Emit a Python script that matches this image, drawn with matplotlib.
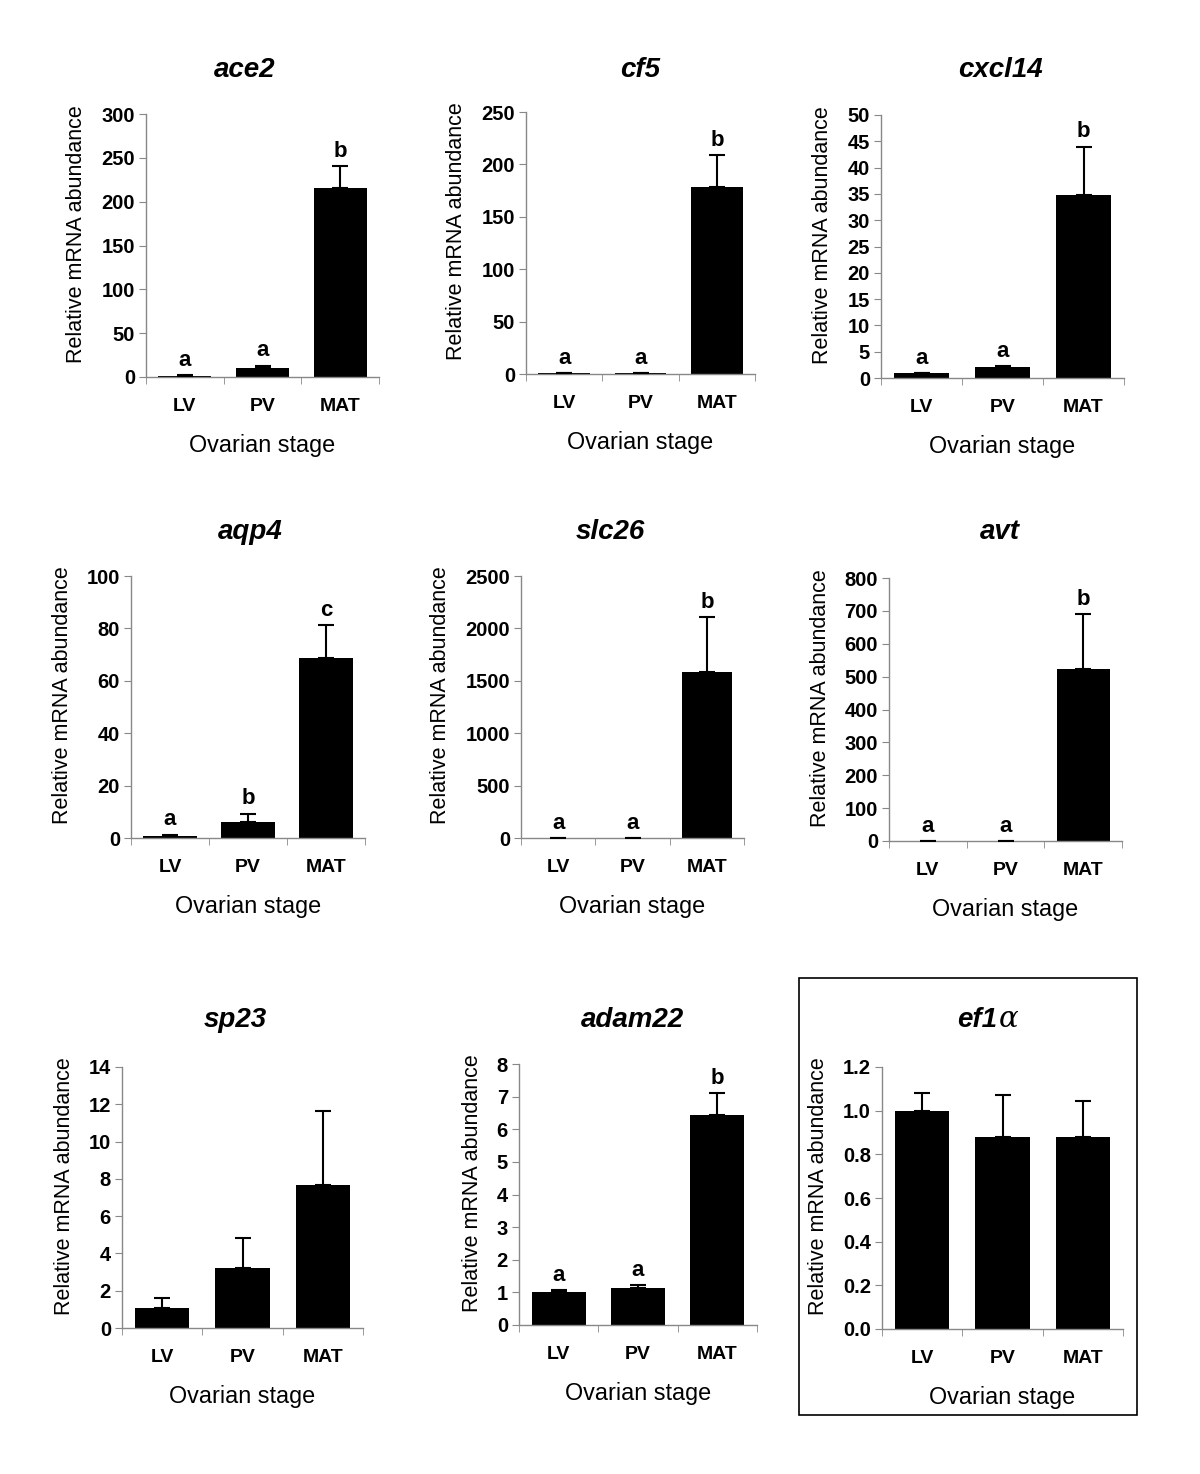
import matplotlib
matplotlib.use("Agg")
import matplotlib.pyplot as plt
import numpy as np

plt.rcParams['font.family'] = ['Liberation Sans', 'DejaVu Sans']
plt.rcParams['mathtext.fontset'] = 'dejavuserif'

stages = ['LV', 'PV', 'MAT']

genes = ['ace2', 'cf5', 'cxcl14', 'aqp4', 'slc26', 'avt', 'sp23', 'adam22', 'ef1a']

ace2_mean = [1.5, 10, 216]
ace2_err = [0.8, 3, 25]
cf5_mean = [1.2, 1.2, 178]
cf5_err = [0, 0, 31]
cxcl14_mean = [1.0, 2.0, 34.7]
cxcl14_err = [0, 0.3, 9.3]
aqp4_mean = [0.8, 6.0, 68.7]
aqp4_err = [0.5, 3.3, 12.5]
slc26_mean = [2, 2, 1580]
slc26_err = [0, 0, 530]
avt_mean = [1, 1, 522]
avt_err = [0, 0, 168]
sp23_mean = [1.05, 3.2, 7.65]
sp23_err = [0.55, 1.65, 4.0]
adam22_mean = [1.02, 1.13, 6.45]
adam22_err = [0.04, 0.09, 0.65]
ef1a_mean = [1.0, 0.88, 0.88]
ef1a_err = [0.08, 0.19, 0.165]

ace2_sig = ['a', 'a', 'b']
cf5_sig = ['a', 'a', 'b']
cxcl14_sig = ['a', 'a', 'b']
aqp4_sig = ['a', 'b', 'c']
slc26_sig = ['a', 'a', 'b']
avt_sig = ['a', 'a', 'b']
sp23_sig = ['', '', '']
adam22_sig = ['a', 'a', 'b']
ef1a_sig = ['', '', '']

ace2_ticks = [0, 50, 100, 150, 200, 250, 300]
cf5_ticks = [0, 50, 100, 150, 200, 250]
cxcl14_ticks = [0, 5, 10, 15, 20, 25, 30, 35, 40, 45, 50]
aqp4_ticks = [0, 20, 40, 60, 80, 100]
slc26_ticks = [0, 500, 1000, 1500, 2000, 2500]
avt_ticks = [0, 100, 200, 300, 400, 500, 600, 700, 800]
sp23_ticks = [0, 2, 4, 6, 8, 10, 12, 14]
adam22_ticks = [0, 1, 2, 3, 4, 5, 6, 7, 8]
ef1a_ticks = [0.0, 0.2, 0.4, 0.6, 0.8, 1.0, 1.2]

titles = {'ace2': 'ace2', 'cf5': 'cf5', 'cxcl14': 'cxcl14', 'aqp4': 'aqp4',
          'slc26': 'slc26', 'avt': 'avt', 'sp23': 'sp23', 'adam22': 'adam22',
          'ef1a': 'ef1'}

data = {
    'ace2': (ace2_mean, ace2_err, ace2_sig, ace2_ticks),
    'cf5': (cf5_mean, cf5_err, cf5_sig, cf5_ticks),
    'cxcl14': (cxcl14_mean, cxcl14_err, cxcl14_sig, cxcl14_ticks),
    'aqp4': (aqp4_mean, aqp4_err, aqp4_sig, aqp4_ticks),
    'slc26': (slc26_mean, slc26_err, slc26_sig, slc26_ticks),
    'avt': (avt_mean, avt_err, avt_sig, avt_ticks),
    'sp23': (sp23_mean, sp23_err, sp23_sig, sp23_ticks),
    'adam22': (adam22_mean, adam22_err, adam22_sig, adam22_ticks),
    'ef1a': (ef1a_mean, ef1a_err, ef1a_sig, ef1a_ticks),
}

# axes boxes in pixels: left, right, top, bottom
boxes = {
    'ace2': (146, 379, 114, 377),
    'cf5': (526, 755, 112, 374),
    'cxcl14': (881, 1124, 115, 378),
    'aqp4': (131, 365, 576, 838),
    'slc26': (521, 744, 576, 838),
    'avt': (889, 1122, 578, 841),
    'sp23': (122, 363, 1067, 1328),
    'adam22': (519, 757, 1064, 1325),
    'ef1a': (882, 1123, 1067, 1329),
}
# title centre x and baseline y in pixels
title_pos = {
    'ace2': (245, 77), 'cf5': (640, 77), 'cxcl14': (1000, 77),
    'aqp4': (250, 539), 'slc26': (610, 539), 'avt': (1000, 539),
    'sp23': (235, 1027), 'adam22': (632, 1027), 'ef1a': (997, 1027),
}

W, H = 1200, 1474
fig = plt.figure(figsize=(W / 100, H / 100), dpi=100)

def fx(x):
    return x / W

def fy(y):
    return 1 - y / H

for g in genes:
    mean, err, sig, ticks = data[g]
    l, r, t, b = boxes[g]
    ax = fig.add_axes([fx(l), fy(b), fx(r) - fx(l), fy(t) - fy(b)])
    x = np.arange(3) + 0.5
    ax.bar(x, mean, width=0.68, color='black', zorder=2)
    ax.errorbar(x, mean, yerr=[np.zeros(3), err], fmt='none', ecolor='black',
                elinewidth=1.5, capsize=6, capthick=1.5, zorder=3)
    ymax = ticks[-1]
    ax.set_xlim(0, 3)
    ax.set_ylim(0, ymax)
    ax.set_yticks(ticks)
    if g == 'ef1a':
        ax.set_yticklabels(['%.1f' % v for v in ticks])
    ax.set_xticks([0, 1, 2, 3], minor=True)
    ax.set_xticks(x)
    ax.set_xticklabels(stages, fontsize=14, fontweight='bold')
    ax.tick_params(axis='x', which='major', length=0, pad=15)
    ax.tick_params(axis='x', which='minor', length=5, color='#888888', direction='out')
    ax.tick_params(axis='y', length=5, color='#888888', labelsize=14.5, pad=3)
    for lab in ax.get_yticklabels():
        lab.set_fontweight('bold')
    for s in ['top', 'right']:
        ax.spines[s].set_visible(False)
    for s in ['left', 'bottom']:
        ax.spines[s].set_color('#888888')
        ax.spines[s].set_linewidth(1)
    ax.set_ylabel('Relative mRNA abundance', fontsize=15.5, labelpad=10)
    ax.yaxis.label.set_y(0.545)
    ax.set_xlabel('Ovarian stage', fontsize=16.8, labelpad=14)
    for xi, m, e, s in zip(x, mean, err, sig):
        if s:
            ax.annotate(s, (xi, m + e), xytext=(0, 3), textcoords='offset points',
                        ha='center', va='bottom', fontsize=16, fontweight='bold')
    tx, ty = title_pos[g]
    if g == 'ef1a':
        fig.text(fx(tx), fy(ty), 'ef1', fontsize=20, fontweight='bold',
                 fontstyle='italic', ha='right', va='baseline')
        fig.text(fx(tx + 1), fy(ty), r'$\alpha$', fontsize=21,
                 ha='left', va='baseline')
    else:
        fig.text(fx(tx), fy(ty), titles[g], fontsize=20, fontweight='bold',
                 fontstyle='italic', ha='center', va='baseline')

# frame around the ef1a panel
frame = plt.Rectangle((fx(799), fy(1415)), fx(1137) - fx(799), fy(978) - fy(1415),
                      transform=fig.transFigure, fill=False, edgecolor='black', linewidth=1.2)
fig.patches.append(frame)

fig.savefig('out.png', dpi=100)
